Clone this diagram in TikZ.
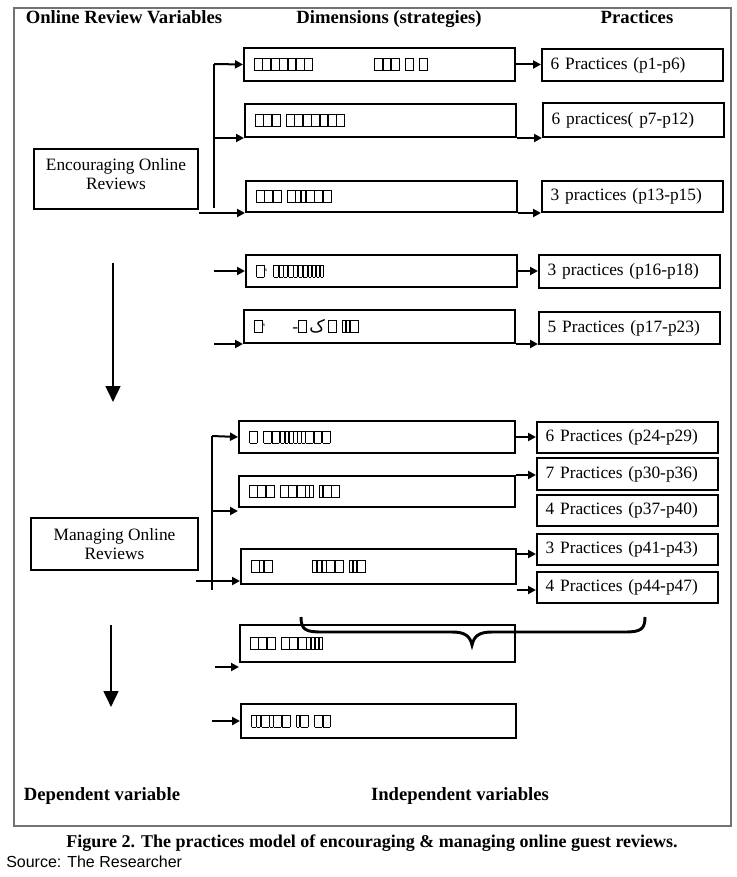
\documentclass[tikz,border=0pt]{standalone}
\usepackage{fontspec}
\setmainfont{Liberation Serif}
\newfontfamily\arabfont{DejaVu Sans}
\newfontfamily\srcfont{Liberation Sans}
\usetikzlibrary{arrows.meta,positioning}

\newcommand\px{0.75pt}
% box standing for a glyph the font lacked
\newcommand\gb[1][5.3pt]{\hbox{\vrule width .5pt\vbox to 9.5pt{\hrule width #1\vfil\hrule}\vrule width .5pt}}

\tikzset{
  frame/.style={draw=black!55, line width=0.8pt},
  head/.style={font=\fontsize{14}{16}\selectfont\bfseries, inner sep=0pt, anchor=base},
  varbox/.style={draw, line width=1.5pt, anchor=north west, align=center,
    font=\fontsize{13}{14.25}\selectfont},
  dimbox/.style={draw, line width=1.5pt, anchor=north west, inner xsep=7.5pt,
    text width=#1, align=left, font=\fontsize{13}{14}\selectfont},
  pbox/.style={draw, line width=1.5pt, anchor=north west, inner xsep=6.5pt,
    text width=123pt, align=left, font=\fontsize{13}{14}\selectfont},
  link/.style={line width=1.5pt, -{Triangle[length=6pt,width=6pt]}},
  flow/.style={line width=2pt, -{Triangle[length=12pt,width=11pt]}},
}

\begin{document}
\begin{tikzpicture}[x=0.75pt,y=-0.75pt]
  \useasboundingbox (0,0) rectangle (737,877);
  \draw[frame] (14,8) rectangle (731,826);

  % column heads
  \node[head] (hvar) at (124,24) {Online Review Variables};
  \node[head] (hdim) at (389,24) {Dimensions (strategies)};
  \node[head] (hpra) at (637,24) {Practices};

  % dependent variable
  \node[varbox, minimum width=164*\px, minimum height=60*\px] (enc) at (33,148) {Encouraging Online\\Reviews\vphantom{g}\\[-6pt]};
  \node[varbox, minimum width=167*\px, minimum height=52*\px] (man) at (30,517) {Managing Online\\Reviews};

  % dimensions
  \node[dimbox=188pt, minimum height=33*\px] (d1) at (243,47) {\gb\gb\gb\gb\gb\gb\gb\hspace{46pt}\gb\gb\gb\ \gb\ \gb};
  \node[dimbox=188pt, minimum height=33*\px] (d2) at (244,103) {\gb\gb\gb\ \gb\gb\gb\gb\gb\gb\gb};
  \node[dimbox=188pt, minimum height=31*\px] (d3) at (245,180) {\gb\gb\gb\ \gb\gb[3pt]\gb[3pt]\gb\gb\gb};
  \node[dimbox=188pt, minimum height=32*\px] (d4) at (245,254) {\gb\textsuperscript{\tiny s}\ \gb[3pt]\gb[2.5pt]\gb[2.5pt]\gb[3pt]\gb[2.5pt]\gb[2.5pt]\gb[3pt]\gb[2pt]\gb[2pt]\gb[2pt]\gb[2pt]};
  \node[dimbox=188pt, minimum height=33*\px] (d5) at (243,309) {\gb\textsuperscript{\tiny s}\hspace{20pt}-\gb\,{\arabfont ک}\,\gb\ \gb[2pt]\gb[2pt]\gb};
  \node[dimbox=192pt, minimum height=32*\px] (d6) at (238,420) {\gb\ \gb\gb\gb[2.5pt]\gb[2pt]\gb[2.5pt]\gb[2pt]\gb[2pt]\gb[2pt]\gb\gb\gb};
  \node[dimbox=192pt, minimum height=31*\px] (d7) at (238,475) {\gb\gb\gb\ \gb\gb\gb\gb[2pt]\gb[2pt]\ \gb[2pt]\gb\gb};
  \node[dimbox=191pt, minimum height=35*\px] (d8) at (240,548) {\gb\gb[2.5pt]\gb\hspace{30pt}\gb[2.5pt]\gb[2.5pt]\gb[2.5pt]\gb\gb\ \gb[2pt]\gb[2pt]\gb};
  \node[dimbox=191pt, minimum height=37*\px] (d9) at (239,624) {\gb\gb\gb\ \gb\gb\gb\gb[2.5pt]\gb[2pt]\gb[2pt]\gb[2pt]};
  \node[dimbox=191pt, minimum height=34*\px] (d10) at (240,703) {\gb[3pt]\gb[2.5pt]\gb\gb[2pt]\gb\gb\ \gb[2pt]\gb\ \gb\gb};

  % practices
  \node[pbox, minimum height=32*\px] (p1) at (541,48) {6 Practices (p1-p6)};
  \node[pbox, minimum height=34*\px] (p2) at (542,102) {6 practices( p7-p12)};
  \node[pbox, minimum height=31*\px] (p3) at (541,180) {3 practices (p13-p15)};
  \node[pbox, minimum height=33*\px] (p4) at (538,254) {3 practices (p16-p18)};
  \node[pbox, minimum height=32*\px] (p5) at (538,311) {5 Practices (p17-p23)};
  \node[pbox, minimum height=31*\px] (q1) at (536,421) {6 Practices (p24-p29)};
  \node[pbox, minimum height=32*\px] (q2) at (536,457) {7 Practices (p30-p36)};
  \node[pbox, minimum height=31*\px] (q3) at (536,494) {4 Practices (p37-p40)};
  \node[pbox, minimum height=31*\px] (q4) at (536,533) {3 Practices (p41-p43)};
  \node[pbox, minimum height=31*\px] (q5) at (536,571) {4 Practices (p44-p47)};

  % encouraging links
  \coordinate (es1) at (214,64);
  \coordinate (es2) at (214,208);
  \draw[line width=1.5pt] (es1) -- (es2);
  \draw[link] (es1) -- (d1.west);
  \draw[link] (es1 |- d2.south west) -- (d2.south west);
  \draw[link] (enc.east |- d3.south west) -- (d3.south west);
  \draw[link] (es1 |- d4.west) -- (d4.west);
  \draw[link] (es1 |- d5.south west) -- (d5.south west);
  \draw[link] (d1.east) -- (d1.east -| p1.west);
  \draw[link] (d2.south east) -- (d2.south east -| p2.west);
  \draw[link] (d3.south east) -- (d3.south east -| p3.west);
  \draw[link] (d4.east) -- (d4.east -| p4.west);
  \draw[link] (d5.south east) -- (d5.south east -| p5.west);

  % managing links
  \coordinate (ms1) at (212,436);
  \coordinate (ms2) at (212,590);
  \coordinate (mb2) at (212,511);
  \coordinate (mb3) at (196,581);
  \coordinate (mb4) at (215,667);
  \draw[line width=1.5pt] (ms1) -- (ms2);
  \draw[link] (ms1) -- (d6.west);
  \draw[link] (mb2) -- (mb2 -| d7.west);
  \draw[link] (mb3) -- (mb3 -| d8.west);
  \draw[link] (mb4) -- (mb4 -| d9.west);
  \draw[link] (ms1 |- d10.west) -- (d10.west);
  \draw[link] (d6.east) -- (d6.east -| q1.west);
  \draw[link] (d7.north east) -- (d7.north east -| q2.west);
  \draw[link] ([yshift=-6*\px]d8.north east) -- ([yshift=-6*\px]d8.north east -| q4.west);
  \draw[link] ([yshift=-5*\px]d8.south east) -- ([yshift=-5*\px]d8.south east -| q5.west);

  % brace
  \draw[line width=2.2pt] (301,617) .. controls (301,630) and (306,632) .. (322,632) -- (452,632)
    .. controls (465,632) and (470,636) .. (472,645) .. controls (474,636) and (479,632) .. (492,632)
    -- (625,632) .. controls (641,632) and (645,629) .. (645,617);

  % downward flow
  \coordinate (dn1) at (113,263);
  \coordinate (dn1e) at (113,402);
  \coordinate (dn2) at (111,625);
  \coordinate (dn2e) at (111,707);
  \draw[flow] (dn1) -- (dn1e);
  \draw[flow] (dn2) -- (dn2e);

  \node[head] (dep) at (102,800) {Dependent variable};
  \node[head] (ind) at (460,800) {Independent variables};

  \node[font=\fontsize{13.5}{15}\selectfont\bfseries, inner sep=0pt] (cap) at (372,843) {Figure 2. The practices model of encouraging \& managing online guest reviews.};
  \node[font=\srcfont\fontsize{12}{14}\selectfont, anchor=west, inner sep=0pt] (src) at (6,862) {Source: The Researcher};
\end{tikzpicture}
\end{document}
